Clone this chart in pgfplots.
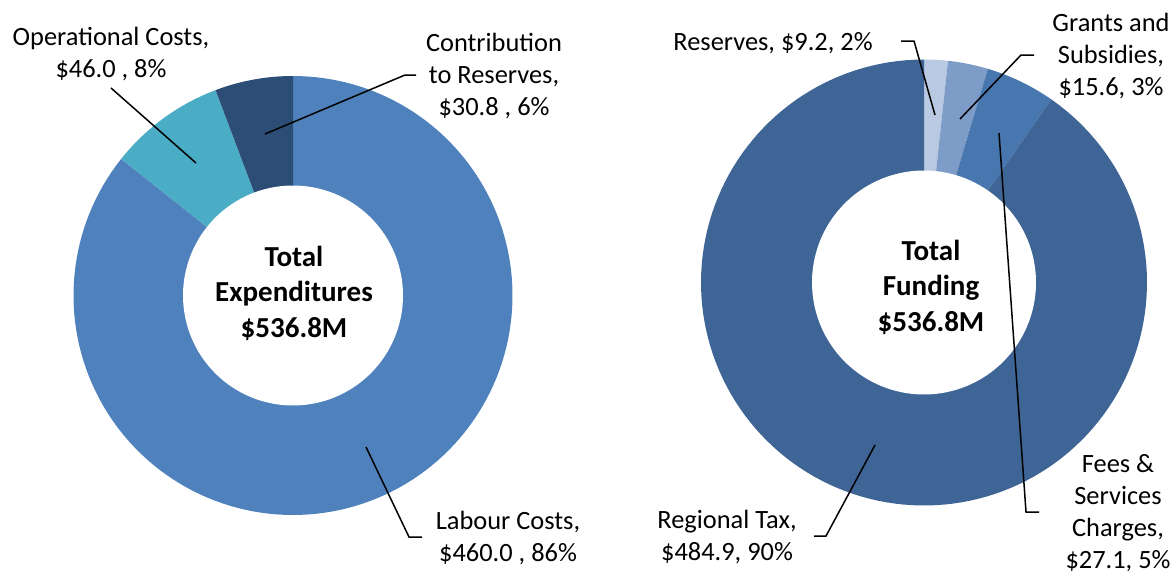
\documentclass[border=0pt]{standalone}
\usepackage{pgfplots}
\pgfplotsset{compat=1.18}
\usepackage{fontspec}
\setmainfont{Carlito}

\definecolor{cLabour}{RGB}{79,129,189}
\definecolor{cOper}{RGB}{75,172,198}
\definecolor{cContr}{RGB}{44,77,117}
\definecolor{cTax}{RGB}{62,101,149}
\definecolor{cRes}{RGB}{185,201,226}
\definecolor{cGrant}{RGB}{126,156,200}
\definecolor{cFees}{RGB}{72,118,174}

% data (millions of dollars)
\def\vLabour{460.0}
\def\vOper{46.0}
\def\vContr{30.8}
\def\vRes{9.2}
\def\vGrant{15.6}
\def\vFees{27.1}
\def\vTax{484.9}

\newcommand{\labfont}{\fontsize{26.4}{32}\selectfont}
\newcommand{\cenfont}{\fontsize{29}{35.5}\selectfont\bfseries}

\begin{document}
\begin{tikzpicture}[x=1pt,y=1pt]
\useasboundingbox (0,0) rectangle (1174,-570);

% ---------- left donut ----------
\pgfmathsetmacro\totL{\vLabour+\vOper+\vContr}
\pgfmathsetmacro\aA{\vLabour/\totL*360}
\pgfmathsetmacro\aB{(\vLabour+\vOper)/\totL*360}
\begin{axis}[hide axis, x=1pt, y=1pt, xmin=-230, xmax=230, ymin=-230, ymax=230,
  anchor=center, at={(293,-295.5)}, clip=false]
\addplot[fill=cLabour, draw=none, domain=0:\aA, samples=150] ({219.5*sin(x)},{219.5*cos(x)}) -- (axis cs:0,0) -- cycle;
\addplot[fill=cOper, draw=none, domain=\aA:\aB, samples=40] ({219.5*sin(x)},{219.5*cos(x)}) -- (axis cs:0,0) -- cycle;
\addplot[fill=cContr, draw=none, domain=\aB:360, samples=40] ({219.5*sin(x)},{219.5*cos(x)}) -- (axis cs:0,0) -- cycle;
\addplot[fill=white, draw=none, domain=0:360, samples=180] ({110*sin(x)},{110*cos(x)}) -- cycle;
\end{axis}

% ---------- right donut ----------
\pgfmathsetmacro\totR{\vRes+\vGrant+\vFees+\vTax}
\pgfmathsetmacro\bA{\vRes/\totR*360}
\pgfmathsetmacro\bB{(\vRes+\vGrant)/\totR*360}
\pgfmathsetmacro\bC{(\vRes+\vGrant+\vFees)/\totR*360}
\begin{axis}[hide axis, x=1pt, y=1pt, xmin=-230, xmax=230, ymin=-230, ymax=230,
  anchor=center, at={(924,-282.5)}, clip=false]
\addplot[fill=cRes, draw=none, domain=0:\bA, samples=20] ({223*sin(x)},{223*cos(x)}) -- (axis cs:0,0) -- cycle;
\addplot[fill=cGrant, draw=none, domain=\bA:\bB, samples=20] ({223*sin(x)},{223*cos(x)}) -- (axis cs:0,0) -- cycle;
\addplot[fill=cFees, draw=none, domain=\bB:\bC, samples=30] ({223*sin(x)},{223*cos(x)}) -- (axis cs:0,0) -- cycle;
\addplot[fill=cTax, draw=none, domain=\bC:360, samples=150] ({223*sin(x)},{223*cos(x)}) -- (axis cs:0,0) -- cycle;
\addplot[fill=white, draw=none, domain=0:360, samples=180] ({112*sin(x)},{112*cos(x)}) -- cycle;
\end{axis}

% ---------- labels ----------
\begin{scope}[every node/.style={align=center, inner sep=0pt}]
\node[font=\labfont] at (111,-54) {Operational Costs,\\\$46.0 , 8\%};
\node[font=\labfont] at (494,-76) {Contribution\\to Reserves,\\\$30.8 , 6\%};
\node[font=\labfont] at (508,-538) {Labour Costs,\\\$460.0 , 86\%};
\node[font=\cenfont] at (294,-293) {Total\\Expenditures\\\$536.8M};

\node[font=\labfont] at (773,-43) {Reserves, \$9.2, 2\%};
\node[font=\labfont] at (1111,-56) {Grants and\\Subsidies,\\\$15.6, 3\%};
\node[font=\labfont] at (1118,-513) {Fees \&\\Services\\Charges,\\\$27.1, 5\%};
\node[font=\labfont] at (727,-537) {Regional Tax,\\\$484.9, 90\%};
\node[font=\cenfont] at (931,-287) {Total\\Funding\\\$536.8M};
\end{scope}

% ---------- leader lines ----------
\begin{scope}[line width=1.5pt, black]
\draw (111,-88) -- (196,-163);
\draw (265,-134) -- (405,-75) -- (416,-75);
\draw (366,-447) -- (409,-537) -- (422,-537);
\draw (901,-41) -- (914,-41) -- (935,-115);
\draw (960,-119) -- (1021,-55) -- (1034,-55);
\draw (999,-133) -- (1026,-512) -- (1039,-512);
\draw (875,-445) -- (826,-536) -- (814,-536);
\end{scope}
\end{tikzpicture}
\end{document}
